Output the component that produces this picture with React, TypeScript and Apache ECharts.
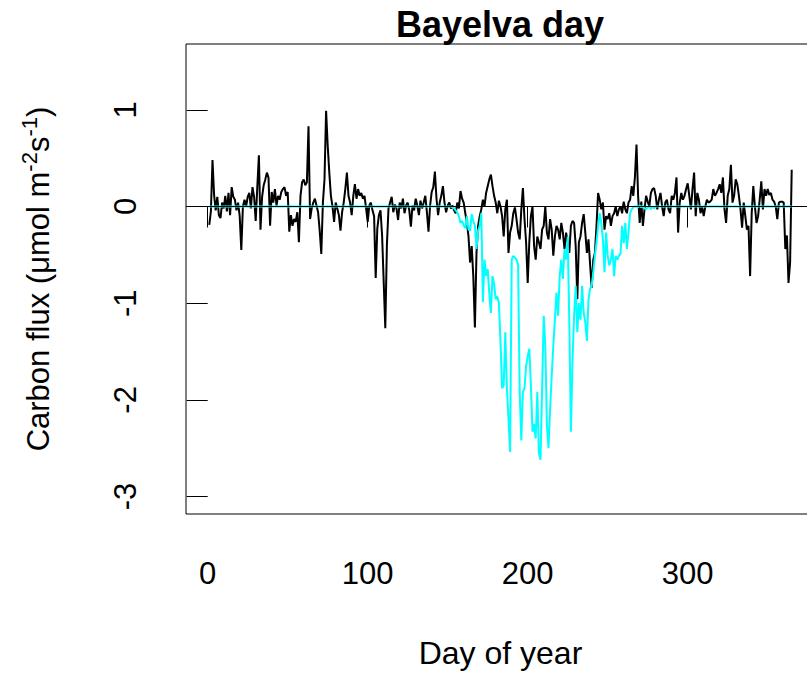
import React, { useEffect, useRef } from "react";
import * as echarts from "echarts";

// Axis tick positions
const dayTicks = [0, 100, 200, 300];
const fluxTicks = [-3, -2, -1, 0, 1];

// Daily measured carbon flux (black), day 1..365
const measuredFlux = [
  -0.19, -0.05, 0.48, 0.12, -0.04, 0.1, -0.09, -0.12, 0.04, -0.02,
  0.11, -0.05, 0.14, -0.09, 0.2, 0.1, 0.07, -0.04, 0.04, -0.1,
  -0.45, 0.0, 0.07, 0.0, 0.1, 0.14, -0.02, 0.2, 0.1, -0.15,
  0.2, 0.53, -0.24, 0.1, 0.22, 0.28, 0.35, 0.3, -0.2, 0.15,
  0.04, 0.18, 0.01, 0.11, 0.07, 0.15, 0.18, 0.2, 0.11, 0.15,
  -0.26, -0.09, -0.2, -0.13, -0.16, -0.06, -0.37, 0.11, 0.25, 0.28,
  0.22, 0.25, 0.83, -0.13, -0.02, 0.04, 0.08, 0.01, -0.06, -0.25,
  -0.49, 0.04, 0.28, 0.99, 0.63, 0.35, 0.11, 0.0, -0.16, 0.04,
  -0.02, -0.09, -0.25, -0.06, 0.04, 0.18, 0.35, 0.11, 0.04, -0.09,
  0.11, 0.23, 0.08, 0.18, 0.11, 0.14, 0.08, 0.11, -0.02, -0.16,
  0.01, 0.04, -0.04, -0.1, -0.74, -0.23, -0.09, -0.04, -0.3, -0.78,
  -1.26, -0.4, -0.02, 0.04, 0.1, -0.06, 0.02, -0.02, -0.14, 0.04,
  -0.02, 0.08, -0.07, 0.01, 0.04, -0.04, -0.21, 0.01, -0.04, 0.08,
  0.01, -0.09, 0.06, -0.02, 0.04, 0.11, -0.06, -0.26, 0.01, 0.15,
  0.2, 0.36, 0.08, -0.09, 0.04, 0.11, 0.21, 0.04, -0.06, 0.01,
  0.04, -0.02, 0.01, -0.04, -0.07, 0.04, -0.02, 0.16, 0.08, 0.04,
  -0.07, -0.17, -0.31, -0.58, -0.41, -0.72, -1.25, -0.48, -0.2, -0.1,
  -0.03, 0.07, 0.0, 0.14, 0.21, 0.28, 0.33, 0.21, 0.11, 0.04,
  -0.07, 0.06, 0.0, -0.1, -0.31, -0.03, 0.07, -0.48, -0.27, -0.2,
  -0.07, -0.01, -0.13, -0.27, -0.34, -0.03, 0.19, -0.13, -0.37, -0.79,
  -0.37, -0.1, 0.0, -0.41, -0.55, -0.31, -0.37, -0.44, -0.24, -0.2,
  0.0, -0.27, -0.34, -0.13, -0.24, -0.51, -0.31, -0.2, -0.24, -0.34,
  -0.17, -0.27, -0.44, -0.27, -0.37, -0.48, -0.2, -0.15, -0.17, -0.41,
  -0.96, -0.37, -0.31, -0.17, -0.08, -0.27, -0.48, -0.34, -0.6, -0.84,
  -0.55, -0.48, -0.2, 0.14, 0.07, -0.03, 0.04, -0.24, -0.1, -0.13,
  -0.07, -0.2, -0.1, -0.07, 0.0, -0.1, -0.03, 0.0, -0.07, 0.05,
  -0.03, -0.07, 0.04, 0.07, 0.21, 0.11, 0.3, 0.64, 0.11, -0.17,
  0.05, -0.2, -0.03, 0.11, 0.05, 0.0, 0.14, 0.18, 0.19, 0.11,
  -0.03, 0.07, 0.14, 0.0, -0.1, 0.04, 0.07, -0.03, -0.07, 0.11,
  0.07, 0.14, 0.3, -0.27, 0.04, 0.14, 0.07, 0.11, 0.18, 0.24,
  0.11, -0.03, 0.18, 0.35, -0.1, 0.14, 0.07, -0.07, 0.0, -0.1,
  0.0, 0.07, 0.04, 0.05, 0.07, 0.18, 0.11, 0.14, 0.18, 0.23,
  0.14, 0.3, -0.03, -0.17, 0.11, 0.18, 0.43, 0.04, 0.11, 0.28,
  0.23, 0.11, -0.03, -0.22, 0.04, -0.1, -0.24, -0.2, -0.72, -0.07,
  0.21, 0.0, -0.17, -0.1, 0.07, 0.26, -0.03, 0.18, 0.11, 0.18,
  0.12, 0.14, 0.07, 0.05, 0.0, -0.13, 0.04, 0.05, 0.05, 0.04,
  -0.44, -0.3, -0.79, -0.58, 0.38,
];

// Daily modelled carbon flux (cyan), day 1..365
const modelledFlux = [
  0, 0, 0, 0, 0, 0, 0, 0, 0, 0,
  0, 0, 0, 0, 0, 0, 0, 0, 0, 0,
  0, 0, 0, 0, 0, 0, 0, 0, 0, 0,
  0, 0, 0, 0, 0, 0, 0, 0, 0, 0,
  0, 0, 0, 0, 0, 0, 0, 0, 0, 0,
  0, 0, 0, 0, 0, 0, 0, 0, 0, 0,
  0, 0, 0, 0, 0, 0, 0, 0, 0, 0,
  0, 0, 0, 0, 0, 0, 0, 0, 0, 0,
  0, 0, 0, 0, 0, 0, 0, 0, 0, 0,
  0, 0, 0, 0, 0, 0, 0, 0, 0, 0,
  0, 0, 0, 0, 0, 0, 0, 0, 0, 0,
  0, 0, 0, 0, 0, 0, 0, 0, 0, 0,
  0, 0, 0, 0, 0, 0, 0, 0, 0, 0,
  0, 0, 0, 0, 0, 0, 0, 0, 0, 0,
  0, 0, 0, 0, 0, 0, 0, 0, 0,
  0, 0, 0, -0.01, -0.02, -0.04, -0.06, -0.1, -0.17, -0.15,
  -0.2, -0.22, -0.1, -0.24, -0.25, -0.08, -0.15, -0.2, -0.44, -0.25,
  -0.2, -0.07, -0.99, -0.55, -0.72, -0.65, -0.9, -1.1, -0.72, -0.8,
  -0.96, -0.93, -1.0, -1.4, -1.88, -1.85, -1.3, -1.88, -2.2, -2.54,
  -0.55, -0.51, -0.53, -0.55, -0.6, -1.92, -2.42, -1.92, -1.88, -1.65,
  -1.55, -1.47, -1.85, -2.33, -2.25, -2.4, -1.92, -2.55, -2.62, -1.9,
  -1.13, -1.44, -2.26, -2.5, -2.1, -1.75, -1.44, -1.17, -0.89, -1.13,
  -0.72, -0.55, -0.75, -0.44, -0.55, -0.31, -1.2, -2.33, -1.6, -1.13,
  -0.82, -1.3, -1.0, -1.17, -0.82, -1.1, -1.2, -1.39, -0.96, -0.85,
  -0.82, -0.68, -0.51, -0.37, -0.2, -0.07, -0.17, -0.34, -0.68, -0.27,
  -0.51, -0.61, -0.55, -0.44, -0.72, -0.51, -0.55, -0.51, -0.49, -0.2,
  -0.38, -0.17, -0.44, -0.27, -0.07, -0.03, -0.01, 0.0, 0.0, -0.01,
  0.01, -0.01, 0.01, -0.02, -0.03, -0.01, 0.0, -0.03, 0.0, -0.02,
  0, 0, 0, 0, 0, 0, 0, 0, 0, 0,
  0, 0, 0, 0, 0, 0, 0, 0, 0, 0,
  0, 0, 0, 0, 0, 0, 0, 0, 0, 0,
  0, 0, 0, 0, 0, 0, 0, 0, 0, 0,
  0, 0, 0, 0, 0, 0, 0, 0, 0, 0,
  0, 0, 0, 0, 0, 0, 0, 0, 0, 0,
  0, 0, 0, 0, 0, 0, 0, 0, 0, 0,
  0, 0, 0, 0, 0, 0, 0, 0, 0, 0,
  0, 0, 0, 0, 0, 0,
];

const FONT = "'Liberation Sans', Arial, Helvetica, sans-serif";

export default function App() {
  const ref = useRef<HTMLDivElement>(null);

  useEffect(() => {
    if (!ref.current) return;
    const chart = echarts.init(ref.current, null, { renderer: "svg" });

    const measured = measuredFlux.map((v, i) => [i + 1, v]);
    const modelled = modelledFlux.map((v, i) => [i + 1, v]);

    chart.setOption({
      animation: false,
      backgroundColor: "#ffffff",
      textStyle: { fontFamily: FONT, color: "#000" },
      graphic: [
        {
          type: "text",
          x: 500,
          y: 24,
          style: {
            text: "Bayelva day",
            align: "center",
            verticalAlign: "middle",
            fontSize: 36,
            fontWeight: "bold",
            fontFamily: FONT,
            fill: "#000",
          },
        },
      ],
      // the plot box runs slightly past the right edge of the page
      grid: {
        left: 186,
        top: 44,
        right: 0,
        bottom: 158,
        show: true,
        borderColor: "#000",
        borderWidth: 1,
        backgroundColor: "transparent",
      },
      xAxis: {
        type: "value",
        min: -13.56,
        max: 379.56,
        splitLine: { show: false },
        axisLine: { show: false },
        axisTick: {
          show: true,
          length: 21,
          customValues: dayTicks,
          lineStyle: { color: "#000", width: 1 },
        },
        axisLabel: {
          customValues: dayTicks,
          fontSize: 31,
          color: "#000",
          margin: 44,
          fontFamily: FONT,
        },
        name: "Day of year",
        nameLocation: "middle",
        nameGap: 123,
        nameTextStyle: { fontSize: 32, color: "#000", fontFamily: FONT },
      },
      yAxis: {
        type: "value",
        min: -3.18,
        max: 1.68,
        splitLine: { show: false },
        axisLine: { show: false },
        axisTick: {
          show: true,
          length: 21,
          customValues: fluxTicks,
          lineStyle: { color: "#000", width: 1 },
        },
        axisLabel: {
          customValues: fluxTicks,
          rotate: 90,
          fontSize: 31,
          color: "#000",
          margin: 45,
          fontFamily: FONT,
        },
        name: "{n|Carbon flux (μmol m}{s|-2}{n|s}{s|-1}{n|)}",
        nameLocation: "middle",
        nameRotate: 90,
        nameGap: 128,
        nameTextStyle: {
          fontFamily: FONT,
          color: "#000",
          rich: {
            n: { fontSize: 31, lineHeight: 40, fontFamily: FONT, color: "#000" },
            s: {
              fontSize: 22,
              lineHeight: 40,
              verticalAlign: "top",
              fontFamily: FONT,
              color: "#000",
            },
          },
        },
      },
      series: [
        {
          type: "line",
          data: measured,
          symbol: "none",
          lineStyle: { color: "#000", width: 2 },
          z: 2,
          markLine: {
            silent: true,
            symbol: "none",
            label: { show: false },
            lineStyle: { color: "#000", width: 1, type: "solid" },
            data: [{ yAxis: 0 }],
          },
        },
        {
          type: "line",
          data: modelled,
          symbol: "none",
          lineStyle: { color: "#00FFFF", width: 2 },
          z: 3,
        },
      ],
    });

    return () => chart.dispose();
  }, []);

  return (
    <div
      ref={ref}
      style={{ position: "fixed", left: 0, top: 0, width: 815, height: 674 }}
    />
  );
}
